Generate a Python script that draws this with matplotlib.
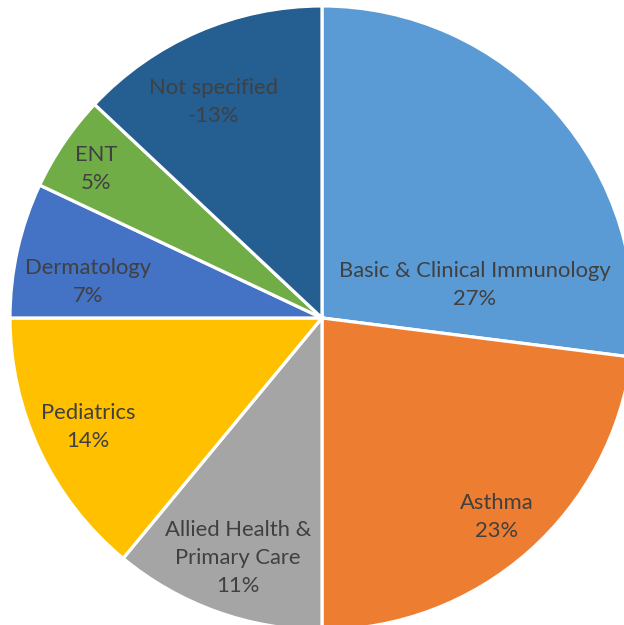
import matplotlib.pyplot as plt

categories = ['Basic & Clinical Immunology', 'Asthma', 'Allied Health &\nPrimary Care',
              'Pediatrics', 'Dermatology', 'ENT', 'Not specified']
shares = [27, 23, 11, 14, 7, 5, 13]
pct_labels = ['27%', '23%', '11%', '14%', '7%', '5%', '-13%']
colors = ['#5B9BD5', '#ED7D31', '#A5A5A5', '#FFC000', '#4472C4', '#70AD47', '#255E91']

# where Excel put the data labels (relative to the pie centre, radius = 1)
label_xy = [(0.49, 0.106), (0.561, -0.638), (-0.269, -0.769), (-0.75, -0.349),
            (-0.75, 0.115), (-0.724, 0.478), (-0.349, 0.692)]

plt.rcParams['font.family'] = ['Lato', 'DejaVu Sans']

fig = plt.figure(figsize=(6.24, 6.25), dpi=100)
ax = fig.add_axes([0, 0, 1, 1])

ax.pie(shares, colors=colors, startangle=90, counterclock=False, radius=1,
       wedgeprops=dict(edgecolor='white', linewidth=2.3))

for name, pct, (x, y) in zip(categories, pct_labels, label_xy):
    ax.text(x, y, name + '\n' + pct, ha='center', va='center',
            fontsize=15.8, color='#404040', linespacing=1.5)

ax.set_xlim(-1.032, 0.968)
ax.set_ylim(-0.984, 1.019)
ax.set_aspect('equal')
ax.axis('off')

plt.savefig('out.png', dpi=100)
